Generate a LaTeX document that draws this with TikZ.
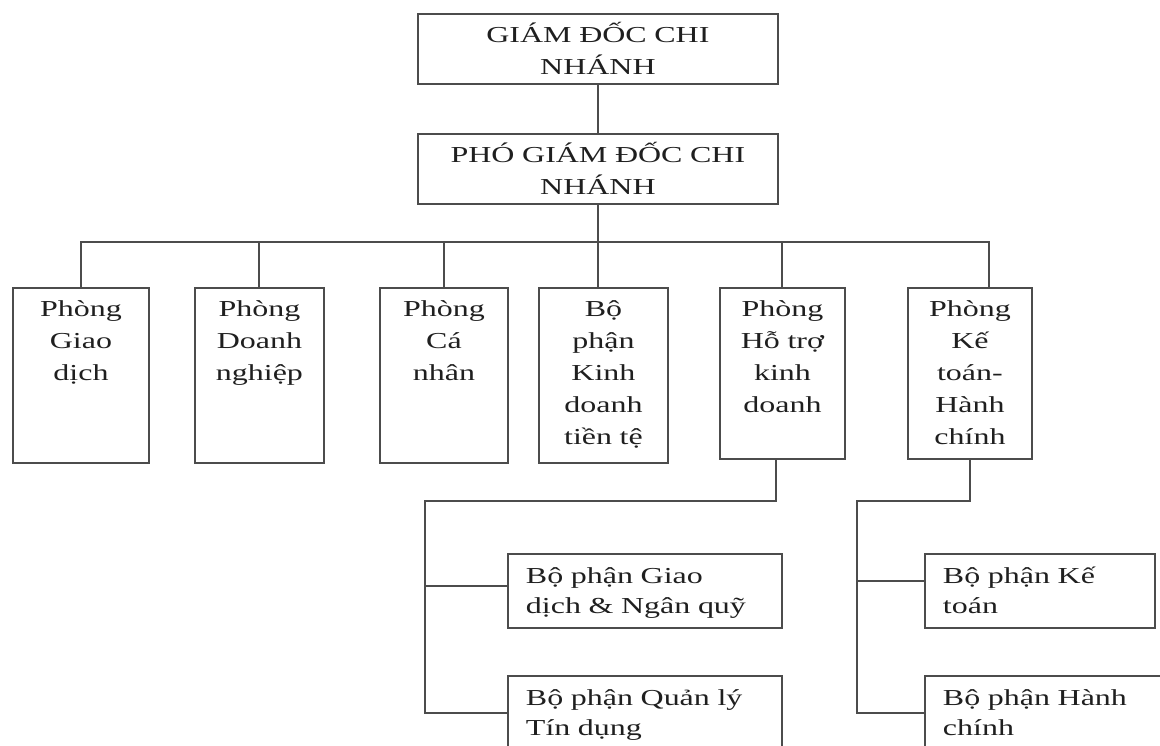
\documentclass[tikz,border=0pt]{standalone}
\usepackage{fontspec}
\setmainfont{Liberation Serif}[FakeStretch=1.4]
\usepackage{tikz}
\usetikzlibrary{calc}
\definecolor{linegray}{gray}{0.3}
\definecolor{inkgray}{gray}{0.12}

\begin{document}
\begin{tikzpicture}[x=0.02cm, y=-0.02cm,
	box/.style={draw=linegray, line width=1.1pt, inner sep=0pt, align=center, anchor=north west, text=inkgray, font=\fontsize{13pt}{18.2pt}\selectfont},
	dept/.style={box, text height=0.58cm},
	sub/.style={box, align=left, inner xsep=0.36cm, text height=0.6cm, text depth=0.88cm, font=\fontsize{13pt}{17pt}\selectfont}]
	\useasboundingbox (0,0) rectangle (1160,746);
	\clip (0,0) rectangle (1160,746);
	% ban giam doc
	\node[box, text width=7.2cm, text height=0.58cm, text depth=0.82cm] (gdcn) at (417,13) {GIÁM ĐỐC CHI\\NHÁNH};
	\node[box, text width=7.2cm, text height=0.58cm, text depth=0.82cm] (pgd) at (417,133) {PHÓ GIÁM ĐỐC CHI\\NHÁNH};
	% cac phong
	\node[dept, text width=2.72cm, text depth=2.92cm] (b1) at (12,287) {Phòng\\Giao\\dịch};
	\node[dept, text width=2.58cm, text depth=2.92cm] (b2) at (194,287) {Phòng\\Doanh\\nghiệp};
	\node[dept, text width=2.56cm, text depth=2.92cm] (b3) at (379,287) {Phòng\\Cá\\nhân};
	\node[dept, text width=2.58cm, text depth=2.92cm] (b4) at (538,287) {Bộ\\phận\\Kinh\\doanh\\tiền tệ};
	\node[dept, text width=2.5cm, text depth=2.84cm] (b5) at (719,287) {Phòng\\Hỗ trợ\\kinh\\doanh};
	\node[dept, text width=2.48cm, text depth=2.84cm] (b6) at (907,287) {Phòng\\Kế\\toán-\\Hành\\chính};
	% bo phan
	\node[sub, text width=4.76cm] (s1) at (507,553) {Bộ phận Giao\\dịch~\&~Ngân~quỹ};
	\node[sub, text width=4.76cm] (s2) at (507,675) {Bộ phận Quản lý\\Tín dụng};
	\node[sub, text width=3.88cm] (s3) at (924,553) {Bộ phận Kế\\toán};
	\node[sub, text width=4.48cm] (s4) at (924,675) {Bộ phận Hành\\chính};
	% duong noi
	\coordinate (bus) at (0,242);
	\coordinate (hub) at (0,501);
	\coordinate (rail5) at (425,0);
	\coordinate (rail6) at (857,0);
	\coordinate (b6top) at ([xshift=0.38cm]b6.north);
	\draw[linegray, line width=1.1pt] (gdcn.south) -- (pgd.north);
	\draw[linegray, line width=1.1pt] (pgd.south) -- (pgd.south |- b4.north);
	\draw[linegray, line width=1.1pt] (b1.north) |- (bus -| b6top) -- (b6top);
	\foreach \n in {b2,b3,b5}
		\draw[linegray, line width=1.1pt] (\n.north) -- (\n.north |- bus);
	\draw[linegray, line width=1.1pt] ([xshift=-0.12cm]b5.south) |- (rail5 |- hub) |- (s2.west);
	\draw[linegray, line width=1.1pt] ([yshift=0.1cm]s1.west) -- ([yshift=0.1cm]s1.west -| rail5);
	\draw[linegray, line width=1.1pt] (b6.south) |- (rail6 |- hub) |- (s4.west);
	\draw[linegray, line width=1.1pt] ([yshift=0.2cm]s3.west) -- ([yshift=0.2cm]s3.west -| rail6);
\end{tikzpicture}
\end{document}
